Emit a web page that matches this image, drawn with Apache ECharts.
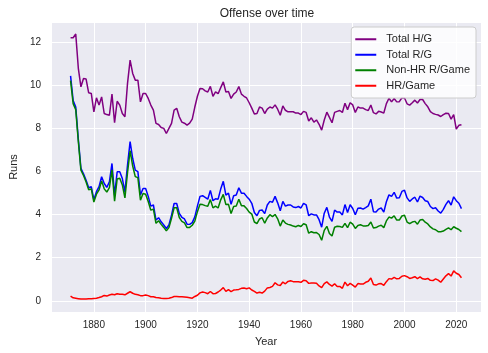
<!DOCTYPE html>
<html>
<head>
<meta charset="utf-8">
<script src="https://cdn.jsdelivr.net/npm/echarts@6/dist/echarts.min.js"></script>
<style>
  html, body { margin: 0; padding: 0; background: #ffffff; }
  #chart { width: 488px; height: 353px; }
</style>
</head>
<body>
<div id="chart"></div>
<script>
// seasons 1871..2022, one value per season
const firstYear = 1871;

const hitsPerGame = [
  12.22, 12.22, 12.39, 10.80, 9.94, 10.33, 10.30, 9.66, 9.63, 8.78,
  9.43, 9.09, 9.47, 8.70, 8.65, 8.62, 9.60, 8.27, 9.27, 9.09,
  8.70, 8.55, 10.10, 11.18, 10.56, 10.25, 10.25, 9.24, 9.63, 9.63,
  9.40, 9.09, 8.86, 8.24, 8.19, 8.05, 8.01, 7.77, 8.01, 8.24,
  8.86, 8.94, 8.55, 8.30, 8.25, 8.16, 8.25, 8.44, 9.00, 9.50,
  9.86, 9.85, 9.75, 9.70, 9.96, 9.50, 9.70, 9.62, 9.90, 10.17,
  9.70, 9.72, 9.40, 9.60, 9.70, 9.95, 9.60, 9.50, 9.42, 9.20,
  8.95, 8.68, 8.70, 9.00, 8.95, 8.70, 8.90, 9.00, 8.95, 9.10,
  8.90, 8.62, 9.05, 8.85, 8.78, 8.78, 8.78, 8.72, 8.72, 8.65,
  8.80, 8.75, 8.35, 8.50, 8.30, 8.40, 8.20, 7.93, 8.40, 8.76,
  8.52, 8.27, 8.75, 8.80, 8.84, 8.75, 9.18, 8.88, 9.20, 9.10,
  8.75, 9.00, 8.95, 8.95, 8.88, 8.84, 9.09, 8.74, 8.68, 8.80,
  8.77, 8.72, 9.16, 9.41, 9.24, 9.40, 9.24, 9.25, 9.43, 9.42,
  9.15, 9.09, 9.20, 9.32, 9.19, 9.35, 9.35, 9.16, 9.01, 8.79,
  8.70, 8.66, 8.63, 8.56, 8.65, 8.71, 8.70, 8.44, 8.65, 7.98,
  8.15, 8.18
];

const runsPerGame = [
  10.45, 9.30, 9.00, 7.50, 6.15, 5.90, 5.60, 5.25, 5.30, 4.70,
  5.07, 5.30, 5.76, 5.45, 5.27, 5.53, 6.38, 4.91, 5.99, 5.99,
  5.68, 5.06, 6.30, 7.39, 6.61, 6.07, 6.00, 4.91, 5.22, 5.22,
  4.85, 4.40, 4.45, 3.75, 3.86, 3.67, 3.52, 3.36, 3.52, 3.98,
  4.52, 4.52, 4.06, 3.88, 3.80, 3.56, 3.55, 3.63, 3.90, 4.40,
  4.85, 4.88, 4.80, 4.72, 5.13, 4.65, 4.74, 4.72, 5.19, 5.55,
  4.91, 5.00, 4.48, 4.88, 4.91, 5.25, 5.00, 5.00, 4.85, 4.72,
  4.53, 4.10, 3.95, 4.20, 4.22, 4.05, 4.45, 4.62, 4.58, 4.85,
  4.55, 4.18, 4.62, 4.40, 4.45, 4.45, 4.36, 4.33, 4.38, 4.31,
  4.53, 4.46, 3.95, 4.04, 3.99, 3.99, 3.77, 3.42, 4.07, 4.34,
  3.89, 3.69, 4.21, 4.12, 4.12, 3.99, 4.47, 4.10, 4.46, 4.29,
  4.00, 4.30, 4.31, 4.26, 4.33, 4.41, 4.72, 4.14, 4.13, 4.26,
  4.31, 4.12, 4.60, 4.92, 4.85, 5.04, 4.77, 4.79, 5.08, 5.14,
  4.78, 4.62, 4.73, 4.81, 4.59, 4.86, 4.80, 4.65, 4.61, 4.38,
  4.28, 4.32, 4.17, 4.07, 4.25, 4.48, 4.65, 4.45, 4.83, 4.65,
  4.53, 4.28
];

const nonHrRunsPerGame = [
  10.23, 9.16, 8.88, 7.40, 6.07, 5.82, 5.52, 5.16, 5.20, 4.59,
  4.95, 5.15, 5.57, 5.20, 5.05, 5.26, 6.08, 4.63, 5.66, 5.69,
  5.38, 4.78, 5.95, 6.97, 6.26, 5.77, 5.72, 4.67, 4.98, 4.95,
  4.61, 4.21, 4.26, 3.60, 3.72, 3.55, 3.41, 3.25, 3.40, 3.83,
  4.32, 4.32, 3.87, 3.69, 3.62, 3.40, 3.41, 3.51, 3.70, 4.14,
  4.48, 4.47, 4.42, 4.39, 4.70, 4.32, 4.40, 4.31, 4.69, 4.94,
  4.47, 4.48, 4.05, 4.38, 4.40, 4.72, 4.42, 4.41, 4.29, 4.12,
  4.03, 3.66, 3.59, 3.80, 3.86, 3.60, 3.85, 4.00, 3.91, 4.01,
  3.81, 3.47, 3.75, 3.61, 3.55, 3.52, 3.47, 3.44, 3.50, 3.45,
  3.58, 3.53, 3.14, 3.21, 3.16, 3.17, 3.08, 2.81, 3.27, 3.46,
  3.13, 3.01, 3.42, 3.46, 3.45, 3.41, 3.60, 3.40, 3.65, 3.56,
  3.36, 3.50, 3.53, 3.48, 3.47, 3.50, 3.66, 3.38, 3.40, 3.47,
  3.51, 3.40, 3.71, 3.89, 3.84, 3.95, 3.75, 3.75, 3.94, 3.97,
  3.66, 3.58, 3.66, 3.69, 3.56, 3.75, 3.78, 3.65, 3.57, 3.43,
  3.34, 3.30, 3.21, 3.21, 3.24, 3.32, 3.39, 3.30, 3.44, 3.37,
  3.31, 3.21
];

const hrPerGame = [
  0.22, 0.14, 0.12, 0.10, 0.08, 0.08, 0.08, 0.09, 0.10, 0.11,
  0.12, 0.15, 0.19, 0.25, 0.22, 0.27, 0.30, 0.28, 0.33, 0.30,
  0.30, 0.28, 0.35, 0.42, 0.35, 0.30, 0.28, 0.24, 0.24, 0.27,
  0.24, 0.19, 0.19, 0.15, 0.14, 0.12, 0.11, 0.11, 0.12, 0.15,
  0.20, 0.20, 0.19, 0.19, 0.18, 0.16, 0.14, 0.12, 0.20, 0.26,
  0.37, 0.41, 0.38, 0.33, 0.43, 0.33, 0.34, 0.41, 0.50, 0.61,
  0.44, 0.52, 0.43, 0.50, 0.51, 0.53, 0.58, 0.59, 0.56, 0.60,
  0.50, 0.44, 0.36, 0.40, 0.36, 0.45, 0.60, 0.62, 0.67, 0.84,
  0.74, 0.71, 0.87, 0.79, 0.90, 0.93, 0.89, 0.89, 0.88, 0.86,
  0.95, 0.93, 0.81, 0.83, 0.83, 0.82, 0.69, 0.61, 0.80, 0.88,
  0.76, 0.68, 0.79, 0.66, 0.67, 0.58, 0.87, 0.70, 0.81, 0.73,
  0.64, 0.80, 0.78, 0.78, 0.86, 0.91, 1.06, 0.76, 0.73, 0.79,
  0.80, 0.72, 0.89, 1.03, 1.01, 1.09, 1.02, 1.04, 1.14, 1.17,
  1.12, 1.04, 1.07, 1.12, 1.03, 1.11, 1.02, 1.00, 1.04, 0.95,
  0.94, 1.02, 0.96, 0.86, 1.01, 1.16, 1.26, 1.15, 1.39, 1.28,
  1.22, 1.07
];

const seriesNames = ["Total H/G", "Total R/G", "Non-HR R/Game", "HR/Game"];
const seriesColors = ["#800080", "#0000ff", "#008000", "#ff0000"];

const font = "Liberation Sans, Arial, sans-serif";
const ink = "#262626";

function pairs(values) {
  return values.map((v, i) => [firstYear + i, v]);
}

function onlyTicks(step) {
  // hide the labels echarts adds at the axis ends
  return function (v) {
    return Math.abs(v / step - Math.round(v / step)) < 1e-6 ? String(Math.round(v)) : "";
  };
}

const myChart = echarts.init(document.getElementById("chart"), null, { renderer: "canvas" });

const allValues = [hitsPerGame, runsPerGame, nonHrRunsPerGame, hrPerGame];

myChart.setOption({
  animation: false,
  backgroundColor: "#ffffff",
  textStyle: { fontFamily: font },
  title: {
    text: "Offense over time",
    left: 262,
    top: 3,
    textAlign: "center",
    textStyle: { fontFamily: font, fontSize: 12, fontWeight: "normal", color: ink },
  },
  legend: {
    data: seriesNames,
    orient: "vertical",
    right: 12,
    top: 27,
    icon: "rect",
    itemWidth: 21,
    itemHeight: 2,
    itemGap: 3,
    padding: [6, 6, 6, 4],
    backgroundColor: "rgba(255,255,255,0.8)",
    borderColor: "#cccccc",
    borderWidth: 1,
    borderRadius: 3,
    textStyle: { fontFamily: font, fontSize: 11, color: ink, lineHeight: 12.5, padding: [0, 0, 0, 5] },
  },
  grid: {
    left: 44,
    right: 7,
    top: 22,
    bottom: 41,
    show: true,
    backgroundColor: "#eaeaf2",
    borderWidth: 0,
  },
  xAxis: {
    type: "value",
    min: 1863.45,
    max: 2029.55,
    splitNumber: 8,
    name: "Year",
    nameLocation: "middle",
    nameGap: 24,
    nameTextStyle: { fontFamily: font, fontSize: 11, color: ink },
    axisLine: { show: false },
    axisTick: { show: false },
    axisLabel: {
      fontFamily: font,
      fontSize: 10,
      color: ink,
      margin: 8,
      showMinLabel: false,
      showMaxLabel: false,
      formatter: onlyTicks(20),
    },
    splitLine: { show: true, lineStyle: { color: "#ffffff", width: 1 } },
  },
  yAxis: {
    type: "value",
    min: -0.52,
    max: 12.95,
    splitNumber: 6,
    name: "Runs",
    nameLocation: "middle",
    nameGap: 28,
    nameRotate: 90,
    nameTextStyle: { fontFamily: font, fontSize: 11, color: ink },
    axisLine: { show: false },
    axisTick: { show: false },
    axisLabel: {
      fontFamily: font,
      fontSize: 10,
      color: ink,
      margin: 10,
      showMinLabel: false,
      showMaxLabel: false,
      formatter: onlyTicks(2),
    },
    splitLine: { show: true, lineStyle: { color: "#ffffff", width: 1 } },
  },
  series: seriesNames.map((name, k) => ({
    name: name,
    type: "line",
    data: pairs(allValues[k]),
    showSymbol: false,
    symbol: "none",
    clip: false,
    color: seriesColors[k],
    lineStyle: { width: 1.5, color: seriesColors[k] },
  })),
});
</script>
</body>
</html>
